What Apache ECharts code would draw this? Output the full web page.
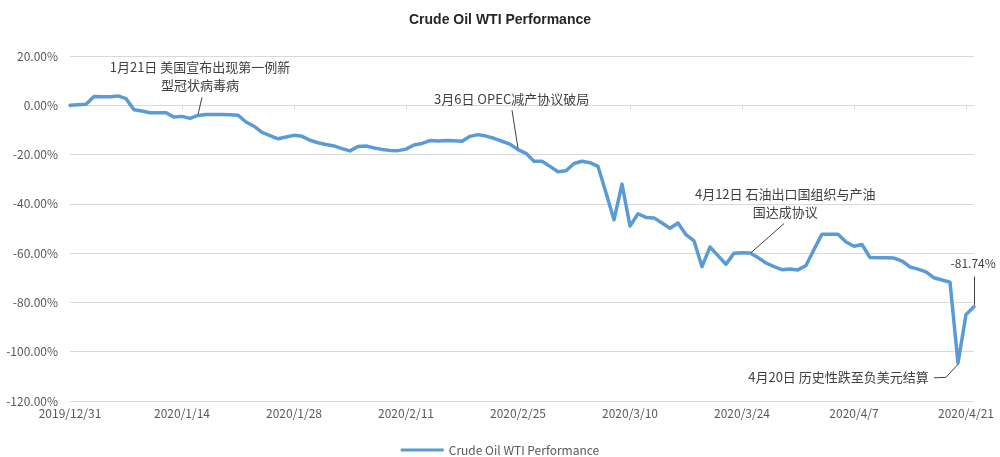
<!DOCTYPE html>
<html><head><meta charset="utf-8">
<script src="https://cdn.jsdelivr.net/npm/echarts@6/dist/echarts.min.js"></script>
<style>html,body{margin:0;padding:0;background:#fff}#c{width:1000px;height:457px}</style>
</head><body><div id="c"></div>
<script>
const seriesName = 'Crude Oil WTI Performance';

// daily categories 2019/12/31 .. 2020/4/22
const dates = ['2019/12/31'];
const monthDays = [[1, 31], [2, 29], [3, 31], [4, 22]];
monthDays.forEach(([m, n]) => { for (let d = 1; d <= n; d++) dates.push('2020/' + m + '/' + d); });

// performance in percent, one value per day
const values = [
  0, 0.2, 0.4, 3.6, 3.5, 3.5, 3.8, 2.7, -1.8, -2.3,
  -3.0, -3.0, -3.0, -4.8, -4.5, -5.3, -4.1, -3.7, -3.7, -3.7,
  -3.8, -4.0, -6.8, -8.5, -11.0, -12.3, -13.6, -12.9, -12.2, -12.6,
  -14.2, -15.2, -15.9, -16.5, -17.6, -18.5, -16.7, -16.5, -17.3, -17.9,
  -18.3, -18.4, -17.8, -16.1, -15.5, -14.3, -14.5, -14.3, -14.4, -14.6,
  -12.6, -11.9, -12.5, -13.4, -14.6, -15.8, -18.0, -19.5, -22.7, -22.7,
  -24.8, -27.0, -26.6, -23.6, -22.7, -23.3, -24.8, -35.5, -46.5, -32.0,
  -49.0, -44.0, -45.5, -45.7, -47.8, -49.9, -47.8, -52.5, -55.0, -65.5,
  -57.5, -61.0, -64.5, -60.0, -59.8, -59.9, -61.8, -64.0, -65.5, -66.7,
  -66.4, -66.8, -65.0, -58.5, -52.3, -52.3, -52.3, -55.5, -57.2, -56.5,
  -61.8, -61.9, -61.9, -62.0, -63.2, -65.6, -66.5, -67.6, -70.0, -70.9,
  -71.8, -104.6, -84.9, -81.74
];

const tickIndices = [0, 14, 28, 42, 56, 70, 84, 98, 112];
const tickLabels = ['2019/12/31', '2020/1/14', '2020/1/28', '2020/2/11', '2020/2/25', '2020/3/10', '2020/3/24', '2020/4/7', '2020/4/21'];

const yMin = -120, yMax = 20, yStep = 20;

// annotation texts, anchor [dayIndex, value] and leader paths in data coords
const annTexts = [
  '1月21日 美国宣布出现第一例新\n型冠状病毒病',
  '3月6日 OPEC减产协议破局',
  '4月12日 石油出口国组织与产油\n国达成协议',
  '4月20日 历史性跌至负美元结算',
  '-81.74%'
];
const annAnchors = [[16.25, 11.8], [55.2, 2.4], [89.4, -39.8], [96.06, -110.4], [112.9, -64.2]];
const annLeaders = [
  [[16.5, 3.2], [16.0, -3.7]],
  [[55.25, -2.0], [56.0, -17.5]],
  [[89.25, -48.0], [85.1, -59.9]],
  [[108.0, -110.6], [109.5, -110.4], [111.0, -105.1]],
  [[113.0, -69.5], [113.0, -81.0]]
];

const markLineData = [];
annLeaders.forEach(path => {
  for (let k = 0; k < path.length - 1; k++) markLineData.push([{ coord: path[k] }, { coord: path[k + 1] }]);
});
const markPointData = annTexts.map((t, k) => {
  const item = { name: t, coord: annAnchors[k] };
  if (k === annTexts.length - 1) item.label = { fontSize: 12 };
  return item;
});

const font = "'Noto Sans CJK SC', 'Noto Sans', sans-serif";
const chart = echarts.init(document.getElementById('c'), null, { renderer: 'canvas' });
chart.setOption({
  animation: false,
  textStyle: { fontFamily: font },
  title: {
    text: seriesName, left: 'center', top: 8,
    textStyle: { fontSize: 14, fontWeight: 'bold', color: '#262626', fontFamily: "'Liberation Sans', Arial, sans-serif" }
  },
  legend: {
    top: 439, left: 'center',
    data: [{ name: seriesName, icon: 'rect' }],
    itemWidth: 43, itemHeight: 3, itemGap: 10,
    textStyle: { color: '#595959', fontSize: 12, fontFamily: font }
  },
  grid: { left: 70, right: 26, top: 56, bottom: 56, containLabel: false, outerBoundsMode: 'none' },
  xAxis: [{
    type: 'value', min: 0, max: dates.length - 1, position: 'bottom',
    splitLine: { show: false },
    axisLine: { show: false, onZero: false },
    axisTick: { show: false },
    axisLabel: {
      customValues: tickIndices, margin: 6, color: '#595959', fontSize: 12, fontFamily: font,
      formatter: v => { const k = tickIndices.indexOf(v); return k >= 0 ? tickLabels[k] : ''; }
    }
  }, {
    type: 'value', min: 0, max: dates.length - 1, position: 'bottom',
    splitLine: { show: false },
    axisLine: { show: true, onZero: true, lineStyle: { color: '#d9d9d9', width: 1 } },
    axisTick: { show: true, customValues: tickIndices, length: 4, lineStyle: { color: '#d9d9d9' } },
    axisLabel: { show: false }
  }],
  yAxis: {
    type: 'value', min: yMin, max: yMax, interval: yStep,
    axisLine: { show: false }, axisTick: { show: false },
    splitLine: { lineStyle: { color: '#d9d9d9', width: 1 } },
    axisLabel: { formatter: v => v.toFixed(2) + '%', color: '#595959', fontSize: 12, margin: 12, fontFamily: font }
  },
  series: [{
    name: seriesName, type: 'line', xAxisIndex: 0,
    data: values.map((v, i) => [i, v]),
    showSymbol: false, symbol: 'none',
    color: '#5B9BD5',
    lineStyle: { color: '#5B9BD5', width: 3.5, join: 'round', cap: 'round' },
    markLine: {
      silent: true, symbol: ['none', 'none'], animation: false,
      lineStyle: { color: '#404040', width: 1, type: 'solid' },
      label: { show: false },
      emphasis: { disabled: true },
      data: markLineData
    },
    markPoint: {
      silent: true, symbol: 'circle', symbolSize: 0, animation: false,
      label: { show: true, position: 'inside', formatter: '{b}', color: '#404040', fontSize: 13, lineHeight: 18, align: 'center', fontFamily: font },
      emphasis: { disabled: true },
      data: markPointData
    }
  }]
});
</script></body></html>
